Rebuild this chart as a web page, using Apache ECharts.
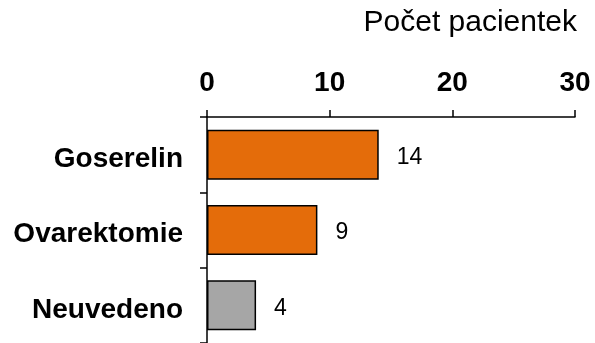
<!DOCTYPE html>
<html>
<head>
<meta charset="utf-8">
<script src="https://cdn.jsdelivr.net/npm/echarts@6/dist/echarts.min.js"></script>
<style>
html,body{margin:0;padding:0;background:#fff;}
#chart{width:595px;height:343px;}
</style>
</head>
<body>
<div id="chart"></div>
<script>
// Počet pacientek podle typu léčby
const categories = ['Goserelin', 'Ovarektomie', 'Neuvedeno'];
const patients = [14, 9, 4];
const barColors = ['#E46C0A', '#E46C0A', '#A6A6A6'];
const axisTicks = [0, 10, 20, 30];

const chart = echarts.init(document.getElementById('chart'), null, {renderer: 'canvas'});
const font = '"Liberation Sans", Arial, sans-serif';

chart.setOption({
  animation: false,
  title: {
    text: 'Počet pacientek',
    right: 13,
    top: 3,
    textStyle: {fontFamily: font, fontSize: 30, fontWeight: 'normal', color: '#000'}
  },
  grid: {left: 207, right: 20, top: 117, height: 232},
  xAxis: {
    type: 'value',
    position: 'top',
    min: axisTicks[0],
    max: axisTicks[axisTicks.length - 1],
    interval: 10,
    axisLine: {show: true, lineStyle: {color: '#000', width: 1.5}},
    axisTick: {show: true, length: 7, lineStyle: {color: '#000', width: 1.5}},
    splitLine: {show: false},
    axisLabel: {margin: 20, fontFamily: font, fontSize: 28, fontWeight: 'bold', color: '#000'}
  },
  yAxis: {
    type: 'category',
    inverse: true,
    data: categories,
    axisLine: {show: true, lineStyle: {color: '#000', width: 1.5}},
    axisTick: {show: true, length: 7, lineStyle: {color: '#000', width: 1.5}},
    axisLabel: {
      margin: 24,
      formatter: '{c|{value}}',
      rich: {
        c: {padding: [9, 0, 0, 0], fontFamily: font, fontSize: 28, fontWeight: 'bold', color: '#000'}
      }
    }
  },
  series: [{
    type: 'bar',
    barWidth: 50,
    data: patients.map((v, i) => ({
      value: v,
      itemStyle: {color: barColors[i], borderColor: '#000', borderWidth: 1.5}
    })),
    label: {
      show: true,
      position: 'right',
      distance: 18,
      offset: [0, 3],
      fontFamily: font,
      fontSize: 23,
      color: '#000'
    }
  }]
});
</script>
</body>
</html>
